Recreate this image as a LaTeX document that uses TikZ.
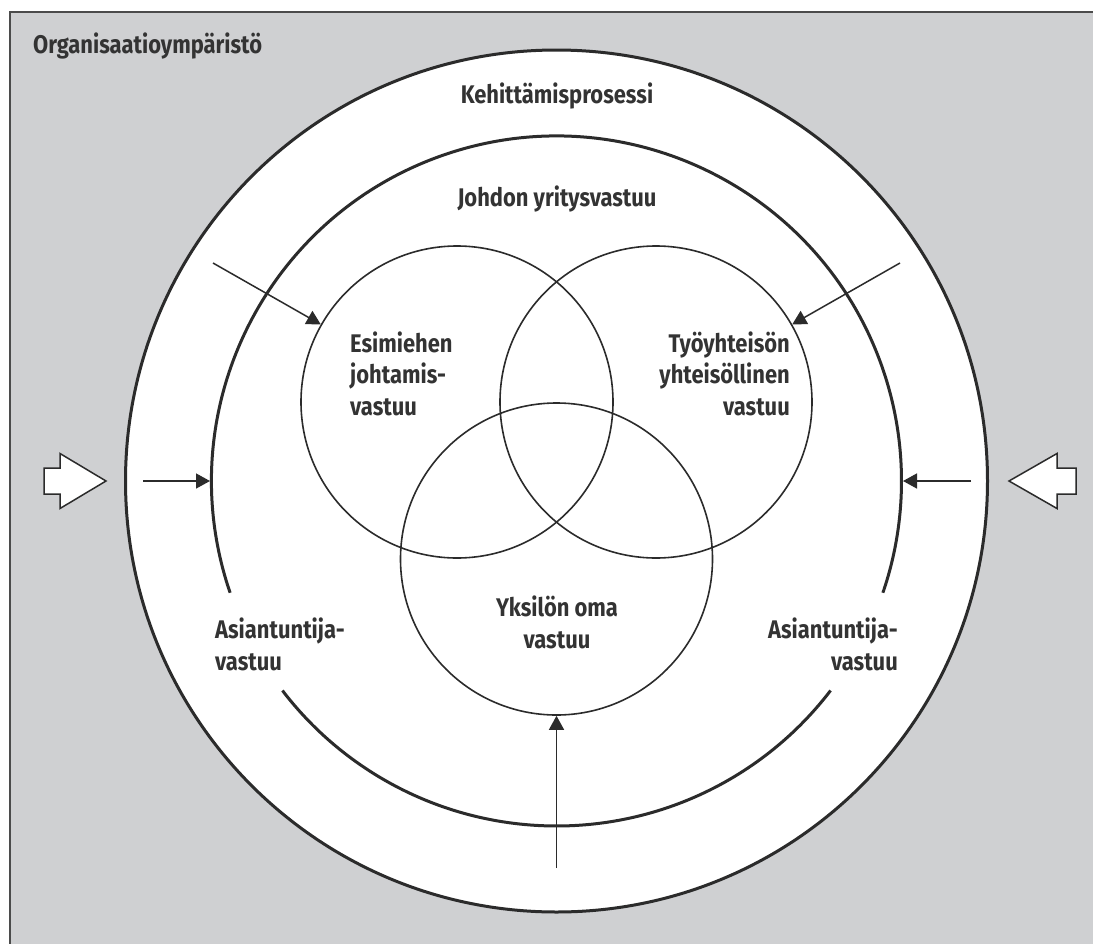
\documentclass[tikz,border=0pt]{standalone}
\usepackage{fontspec}
\setmainfont[FakeStretch=0.86]{Fira Sans}
\usetikzlibrary{arrows.meta}
\definecolor{bggray}{HTML}{CFD0D2}
\definecolor{ink}{HTML}{2B2B2B}
\definecolor{txt}{HTML}{333333}
\begin{document}
\begin{tikzpicture}[x=1pt,y=-1pt,
  lbl/.style={inner sep=0pt, text=txt, font=\fontsize{25.5}{31.5}\selectfont\bfseries},
  ring/.style={circle, inner sep=0pt, outer sep=0pt, draw=ink, line width=3pt},
  venn/.style={circle, inner sep=0pt, outer sep=0.8pt, draw=ink, line width=1.6pt},
  arr/.style={draw=ink, line width=1.5pt, -{Triangle[length=14pt,width=15pt]}},
  blockarrow/.style={fill=white, draw=ink, line width=1.5pt, line join=miter},
  thickarc/.style={draw=ink, line width=3pt}
]
\path[use as bounding box] (0,0) rectangle (1093,943);
\clip (0,0) rectangle (1093,943);
\fill[white] (0,0) rectangle (1093,943);
\filldraw[fill=bggray, draw=ink!85, line width=2pt] (10,12) rectangle (1120,970);

\node[ring, fill=white, minimum size=862] (outer) at (556.5,481) {};
\node[circle, minimum size=690, inner sep=0pt, outer sep=1.5pt] (inner) at (556.5,481) {};
\draw[thickarc] (inner.center) ++(161.1:345) arc[start angle=161.1, end angle=378.9, radius=345];
\draw[thickarc] (inner.center) ++(37.4:345) arc[start angle=37.4, end angle=142.6, radius=345];

\node[venn, minimum size=312] (L) at (457,402) {};
\node[venn, minimum size=312] (R) at (656,402) {};
\node[venn, minimum size=312] (B) at (556.5,559) {};

\coordinate (tl) at (213,263);
\coordinate (tr) at (900,263);
\coordinate (ml) at (143,481);
\coordinate (mr) at (971,481);
\coordinate (bt) at (556.5,868);
\draw[arr] (tl) -- (L);
\draw[arr] (tr) -- (R);
\draw[arr] (ml) -- (inner);
\draw[arr] (mr) -- (inner);
\draw[arr] (bt) -- (B);

\draw[blockarrow] (106,481) -- (60,453.5) -- (60,468) -- (44,468) -- (44,494) -- (60,494) -- (60,508.5) -- cycle;
\draw[blockarrow] (1009,481) -- (1057,453.5) -- (1057,468) -- (1076,468) -- (1076,494) -- (1057,494) -- (1057,508.5) -- cycle;

\node[lbl, anchor=base west] (org) at (33,53) {Organisaatioympäristö};
\node[lbl, anchor=base] (keh) at (557,103) {Kehittämisprosessi};
\node[lbl, anchor=base] (joh) at (557,206) {Johdon yritysvastuu};
\node[lbl, anchor=base west, align=left] (esi) at (350,415) {Esimiehen\\johtamis-\\vastuu};
\node[lbl, anchor=base east, align=right] (tyo) at (790,415) {Työyhteisön\\yhteisöllinen\\vastuu};
\node[lbl, anchor=base, align=center] (yks) at (557,648) {Yksilön oma\\vastuu};
\node[lbl, anchor=base west, align=left] (asl) at (215,670) {Asiantuntija-\\vastuu};
\node[lbl, anchor=base east, align=right] (asr) at (898,670) {Asiantuntija-\\vastuu};
\end{tikzpicture}
\end{document}
